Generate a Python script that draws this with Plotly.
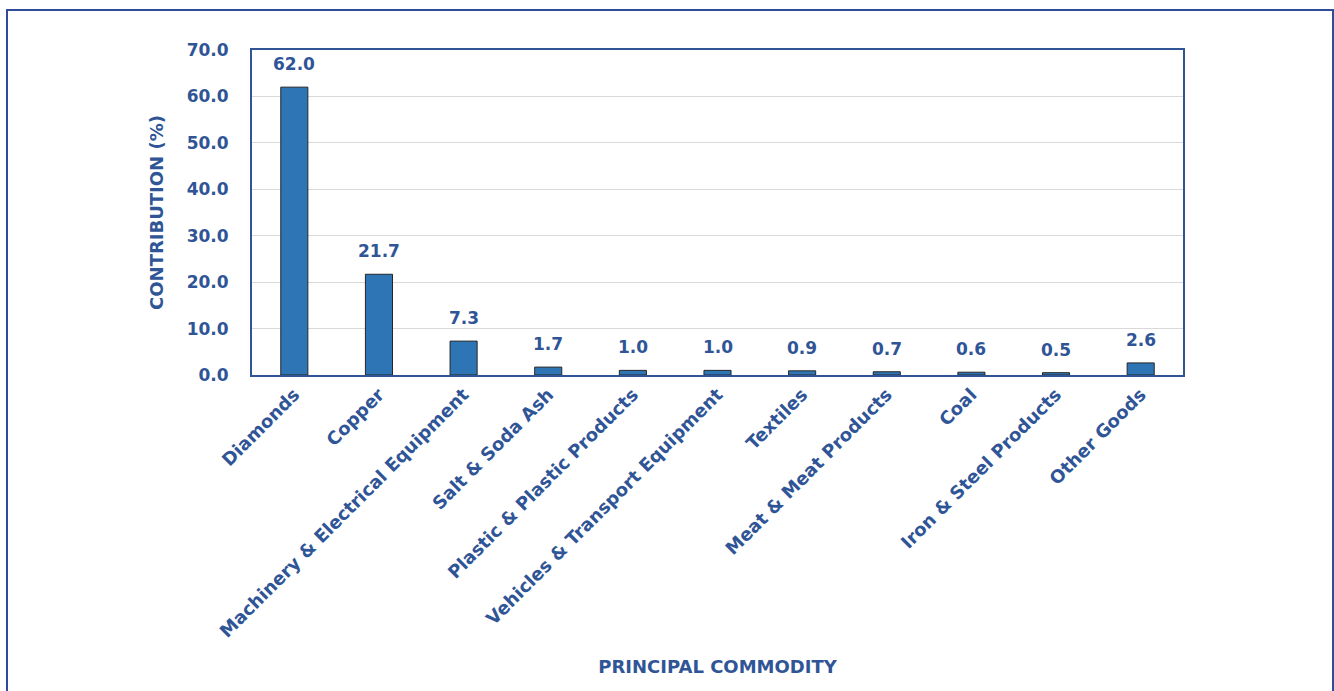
import plotly.graph_objects as go

categories = ["Diamonds", "Copper", "Machinery & Electrical Equipment", "Salt & Soda Ash",
              "Plastic & Plastic Products", "Vehicles & Transport Equipment", "Textiles",
              "Meat & Meat Products", "Coal", "Iron & Steel Products", "Other Goods"]
values = [62.0, 21.7, 7.3, 1.7, 1.0, 1.0, 0.9, 0.7, 0.6, 0.5, 2.6]

TXT = "#2F5597"
FONT = "DejaVu Sans"

W, H = 1334, 691
L, R, T, B = 252, 1334 - 1183, 50, 691 - 375
pw = W - L - R
ph = H - T - B

fig = go.Figure(go.Bar(
    x=categories, y=values,
    marker=dict(color="#2E75B6", line=dict(color="#262626", width=1)),
    cliponaxis=False, width=0.32, hoverinfo="x+y",
))

for c, v in zip(categories, values):
    fig.add_annotation(x=c, y=v, text=f"<b>{v:.1f}</b>", showarrow=False,
                       yanchor="middle", yshift=23,
                       font=dict(family=FONT, size=17, color=TXT))

fig.update_layout(
    width=W, height=H,
    margin=dict(l=L, r=R, t=T, b=B, autoexpand=False),
    paper_bgcolor="white", plot_bgcolor="white",
    font=dict(family=FONT, color=TXT, size=15),
    showlegend=False,
    xaxis=dict(
        tickangle=-45, showline=True, linecolor=TXT, linewidth=2, mirror=True,
        ticks="", tickfont=dict(family=FONT, size=18, color=TXT, weight="bold"),
        title=dict(text="<b>PRINCIPAL COMMODITY</b>", font=dict(family=FONT, size=18, color=TXT), standoff=20),
    ),
    yaxis=dict(
        range=[0, 70], dtick=10, tickformat=".1f",
        showline=True, linecolor=TXT, linewidth=2, mirror=True,
        showgrid=True, gridcolor="#D9D9D9", gridwidth=1, zeroline=False,
        ticks="", ticklabelstandoff=18,
        tickfont=dict(family=FONT, size=17, color=TXT, weight="bold"),
        title=dict(text="<b>CONTRIBUTION (%)</b>", font=dict(family=FONT, size=18, color=TXT), standoff=18),
    ),
)

# outer frame
fig.add_shape(type="rect", xref="paper", yref="paper",
              x0=(7 - L) / pw, x1=(1333 - L) / pw,
              y0=(375 - 720) / ph, y1=(375 - 10) / ph,
              line=dict(color="#2F4B9A", width=2), fillcolor="rgba(0,0,0,0)", layer="below")

fig.write_html("out.html", config={"displayModeBar": False},
               post_script="document.body.style.margin='0';")
